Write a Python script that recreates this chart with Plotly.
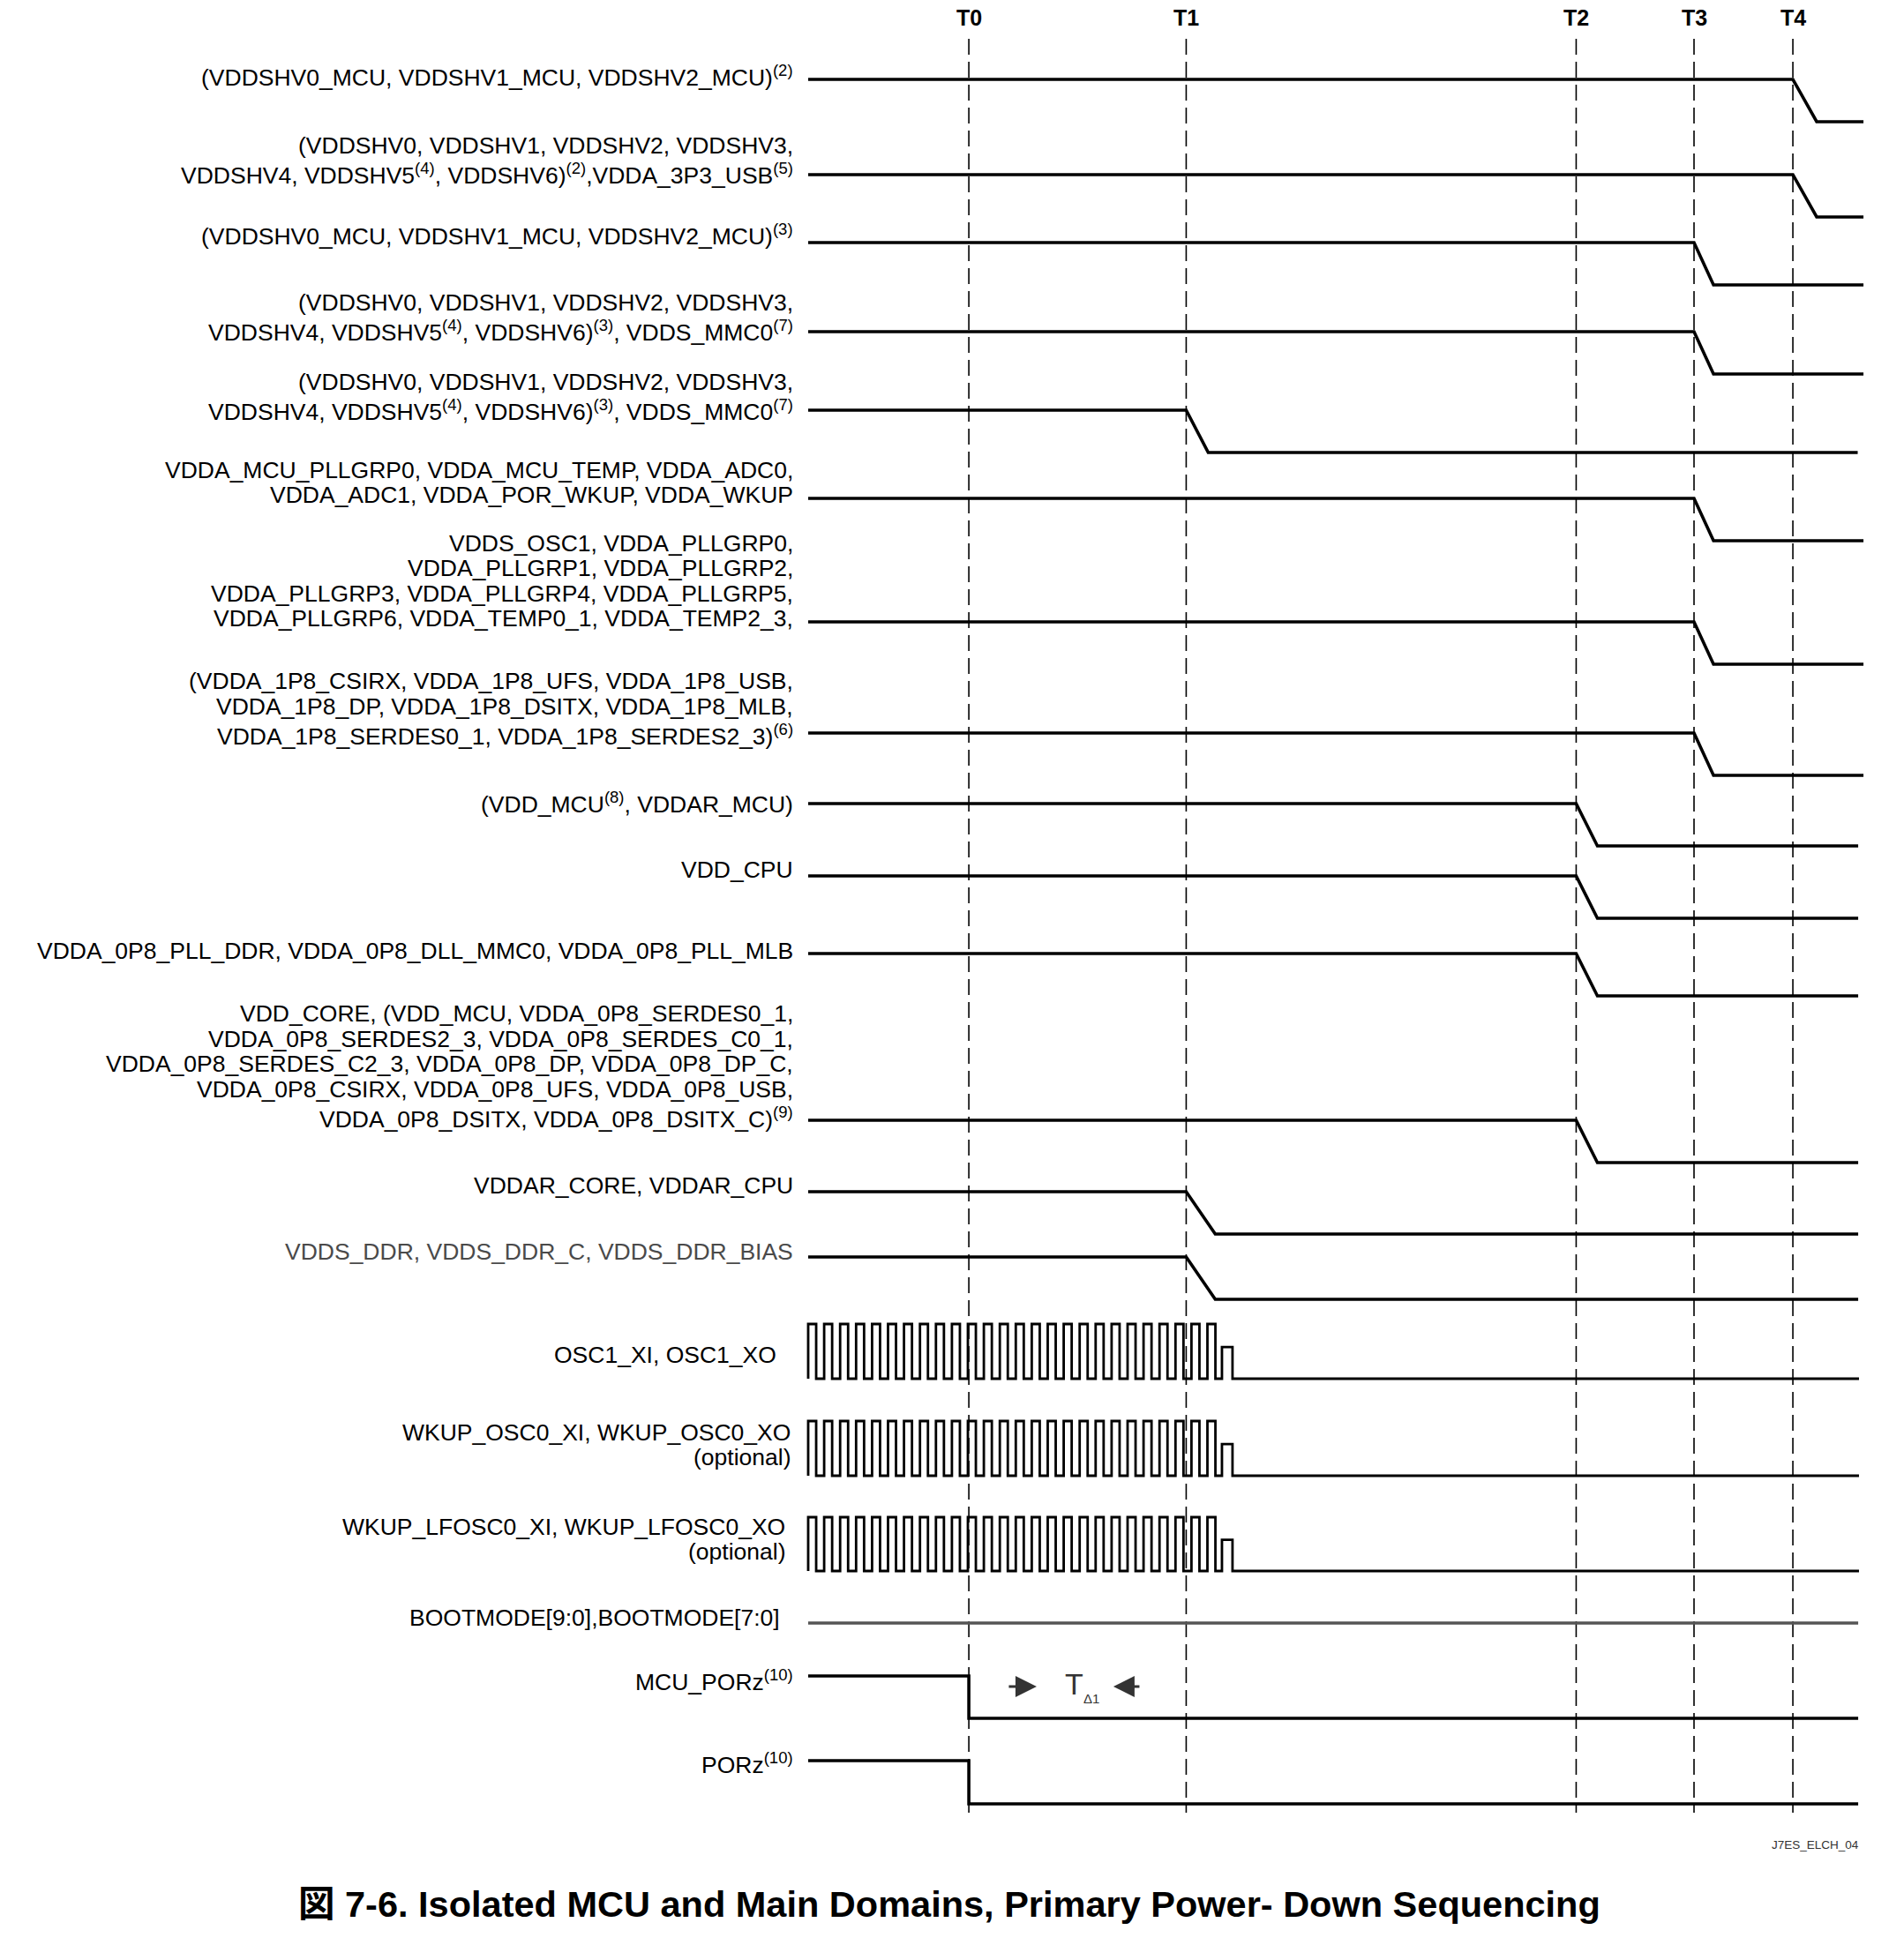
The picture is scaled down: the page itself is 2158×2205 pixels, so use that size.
import plotly.graph_objects as go

# ---------------- data ----------------
time_marks = ["T0", "T1", "T2", "T3", "T4"]
time_values = [10.06, 23.67, 48.09, 55.47, 61.66]      # in oscillator periods from diagram start
sequence_start = 0.0

supply_labels = [
    ["(VDDSHV0_MCU, VDDSHV1_MCU, VDDSHV2_MCU)<sup>(2)</sup>"],
    ["(VDDSHV0, VDDSHV1, VDDSHV2, VDDSHV3,",
     "VDDSHV4, VDDSHV5<sup>(4)</sup>, VDDSHV6)<sup>(2)</sup>,VDDA_3P3_USB<sup>(5)</sup>"],
    ["(VDDSHV0_MCU, VDDSHV1_MCU, VDDSHV2_MCU)<sup>(3)</sup>"],
    ["(VDDSHV0, VDDSHV1, VDDSHV2, VDDSHV3,",
     "VDDSHV4, VDDSHV5<sup>(4)</sup>, VDDSHV6)<sup>(3)</sup>, VDDS_MMC0<sup>(7)</sup>"],
    ["(VDDSHV0, VDDSHV1, VDDSHV2, VDDSHV3,",
     "VDDSHV4, VDDSHV5<sup>(4)</sup>, VDDSHV6)<sup>(3)</sup>, VDDS_MMC0<sup>(7)</sup>"],
    ["VDDA_MCU_PLLGRP0, VDDA_MCU_TEMP, VDDA_ADC0,",
     "VDDA_ADC1, VDDA_POR_WKUP, VDDA_WKUP"],
    ["VDDS_OSC1, VDDA_PLLGRP0,",
     "VDDA_PLLGRP1, VDDA_PLLGRP2,",
     "VDDA_PLLGRP3, VDDA_PLLGRP4, VDDA_PLLGRP5,",
     "VDDA_PLLGRP6, VDDA_TEMP0_1, VDDA_TEMP2_3,"],
    ["(VDDA_1P8_CSIRX, VDDA_1P8_UFS, VDDA_1P8_USB,",
     "VDDA_1P8_DP, VDDA_1P8_DSITX, VDDA_1P8_MLB,",
     "VDDA_1P8_SERDES0_1, VDDA_1P8_SERDES2_3)<sup>(6)</sup>"],
    ["(VDD_MCU<sup>(8)</sup>, VDDAR_MCU)"],
    ["VDD_CPU"],
    ["VDDA_0P8_PLL_DDR, VDDA_0P8_DLL_MMC0, VDDA_0P8_PLL_MLB"],
    ["VDD_CORE, (VDD_MCU, VDDA_0P8_SERDES0_1,",
     "VDDA_0P8_SERDES2_3, VDDA_0P8_SERDES_C0_1,",
     "VDDA_0P8_SERDES_C2_3, VDDA_0P8_DP, VDDA_0P8_DP_C,",
     "VDDA_0P8_CSIRX, VDDA_0P8_UFS, VDDA_0P8_USB,",
     "VDDA_0P8_DSITX, VDDA_0P8_DSITX_C)<sup>(9)</sup>"],
    ["VDDAR_CORE, VDDAR_CPU"],
    ["VDDS_DDR, VDDS_DDR_C, VDDS_DDR_BIAS"],
]
supply_fall_at = ["T4", "T4", "T3", "T3", "T1", "T3", "T3", "T3",
                  "T2", "T2", "T2", "T2", "T1", "T1"]
supply_fall_duration = [1.49, 1.49, 1.22, 1.22, 1.38, 1.22, 1.22, 1.22,
                        1.33, 1.33, 1.33, 1.33, 1.82, 1.82]
supply_end = [66.08, 66.08, 66.08, 66.08, 65.72, 66.08, 66.08, 66.08,
              65.75, 65.75, 65.75, 65.75, 65.75, 65.75]
supply_label_gray = [False] * 13 + [True]

clock_labels = [
    ["OSC1_XI, OSC1_XO"],
    ["WKUP_OSC0_XI, WKUP_OSC0_XO", "(optional)"],
    ["WKUP_LFOSC0_XI, WKUP_LFOSC0_XO", "(optional)"],
]
clock_rise = [0, 1, 2, 3, 4, 5, 6, 7, 8, 9, 10, 11, 12, 13, 14, 15, 16, 17,
              18, 19, 20, 21, 22, 23, 24, 25]
clock_high_width = 0.5
clock_last_pulse = [25.91, 26.57]
clock_last_level = 0.58
clock_end = 65.80

bootmode_label = "BOOTMODE[9:0],BOOTMODE[7:0]"
bootmode_end = 65.75

reset_labels = ["MCU_PORz<sup>(10)</sup>", "PORz<sup>(10)</sup>"]
reset_fall_at = ["T0", "T0"]
reset_end = [65.75, 65.75]

delta_label = "T"
delta_sub = "Δ1"
figure_id = "J7ES_ELCH_04"
title_text = "<b>図 7-6. Isolated MCU and Main Domains, Primary Power- Down Sequencing</b>"

# ---------------- layout (pixel geometry) ----------------
W, H = 2158, 2205
PX0, PX_PER_UNIT = 916.0, 18.1          # horizontal scale of the time axis


def px_to_t(px):
    return (px - PX0) / PX_PER_UNIT


supply_row_y = [90, 198, 275, 376, 465, 565, 705, 831, 911, 993, 1081, 1270, 1351, 1425]
supply_label_y = [86, 197, 266, 375, 465, 561, 701, 833, 910, 986, 1078, 1267, 1344, 1419]
LEVEL_DROP = 48
clock_rows = [(1501, 1563), (1611, 1673), (1720, 1781)]
clock_label_y = [[1536], [1622, 1652], [1729, 1759]]
clock_label_right = [881, 897, 891]
bootmode_y = 1840
bootmode_label_y = 1834
reset_rows = [(1900, 1948), (1996, 2045)]
reset_label_y = [1905, 1999]
LABEL_RIGHT = 900
DASH_TOP, DASH_BOTTOM = 44, 2055

FONT = "Liberation Sans, Arial, Noto Sans CJK JP, sans-serif"
FS = 26.5

tmap = dict(zip(time_marks, time_values))
fig = go.Figure()

# dashed time markers
for name, t in zip(time_marks, time_values):
    fig.add_trace(go.Scatter(x=[t, t], y=[DASH_TOP, DASH_BOTTOM], mode="lines",
                             line=dict(color="black", width=1.6, dash="18px,8px"),
                             hoverinfo="skip", showlegend=False))

annotations = []


def add_label(lines, last_y, right_px, color="black"):
    y = last_y
    ys = []
    for i in range(len(lines) - 1, -1, -1):
        ys.append(y)
        if i > 0:
            y -= 32.5 if "<sup>" in lines[i] else 28.5
    ys = ys[::-1]
    for txt, yy in zip(lines, ys):
        annotations.append(dict(x=px_to_t(right_px), y=yy, xref="x", yref="y", text=txt,
                                showarrow=False, xanchor="right", yanchor="middle",
                                borderpad=0, font=dict(family=FONT, size=FS, color=color)))


# supply rails
for i, lines in enumerate(supply_labels):
    hi = supply_row_y[i]
    lo = hi + LEVEL_DROP
    tf = tmap[supply_fall_at[i]]
    fig.add_trace(go.Scatter(
        x=[sequence_start, tf, tf + supply_fall_duration[i], supply_end[i]],
        y=[hi, hi, lo, lo], mode="lines",
        line=dict(color="black", width=3.6), hoverinfo="skip", showlegend=False))
    add_label(lines, supply_label_y[i], LABEL_RIGHT,
              "#4a4a4a" if supply_label_gray[i] else "black")

# oscillator clocks
for i, lines in enumerate(clock_labels):
    top, bot = clock_rows[i]
    xs, lv = [sequence_start], [0]
    for r in clock_rise:
        xs += [r, r, r + clock_high_width, r + clock_high_width]
        lv += [0, 1, 1, 0]
    a, b = clock_last_pulse
    xs += [a, a, b, b, clock_end]
    lv += [0, clock_last_level, clock_last_level, 0, 0]
    ys = [bot - v * (bot - top) for v in lv]
    fig.add_trace(go.Scatter(x=xs, y=ys, mode="lines",
                             line=dict(color="black", width=2.8),
                             hoverinfo="skip", showlegend=False))
    add_label(lines, clock_label_y[i][-1], clock_label_right[i])

# bootmode
fig.add_trace(go.Scatter(x=[sequence_start, bootmode_end], y=[bootmode_y, bootmode_y],
                         mode="lines", line=dict(color="#555555", width=3.5),
                         hoverinfo="skip", showlegend=False))
add_label([bootmode_label], bootmode_label_y, 885)

# resets
for i, lab in enumerate(reset_labels):
    hi, lo = reset_rows[i]
    tf = tmap[reset_fall_at[i]]
    fig.add_trace(go.Scatter(x=[sequence_start, tf, tf, reset_end[i]], y=[hi, hi, lo, lo],
                             mode="lines", line=dict(color="black", width=3.6),
                             hoverinfo="skip", showlegend=False))
    add_label([lab], reset_label_y[i], LABEL_RIGHT)

# time marker labels
for name, t in zip(time_marks, time_values):
    annotations.append(dict(x=t, y=20, xref="x", yref="y", text="<b>%s</b>" % name,
                            showarrow=False, xanchor="center", yanchor="middle",
                            font=dict(family=FONT, size=25, color="black")))

# T delta annotation between T0 and T1
t0, t1 = tmap["T0"], tmap["T1"]
span = t1 - t0
ay = 1912
annotations.append(dict(x=t0 + 0.312 * span, y=ay, ax=t0 + 0.178 * span, ay=ay,
                        xref="x", yref="y", axref="x", ayref="y", text="",
                        showarrow=True, arrowhead=2, arrowsize=1.6, arrowwidth=3,
                        arrowcolor="#333333", standoff=0))
annotations.append(dict(x=t0 + 0.665 * span, y=ay, ax=t0 + 0.791 * span, ay=ay,
                        xref="x", yref="y", axref="x", ayref="y", text="",
                        showarrow=True, arrowhead=2, arrowsize=1.6, arrowwidth=3,
                        arrowcolor="#333333", standoff=0))
annotations.append(dict(x=t0 + 0.483 * span, y=1909, xref="x", yref="y", text=delta_label,
                        showarrow=False, xanchor="center", yanchor="middle",
                        font=dict(family=FONT, size=34, color="#333333")))
annotations.append(dict(x=t0 + 0.562 * span, y=1925, xref="x", yref="y", text=delta_sub,
                        showarrow=False, xanchor="center", yanchor="middle",
                        font=dict(family=FONT, size=15, color="#333333")))

# figure id and caption
annotations.append(dict(x=px_to_t(2109), y=2091, xref="x", yref="y", text=figure_id,
                        showarrow=False, xanchor="right", yanchor="middle",
                        font=dict(family=FONT, size=13.5, color="#333333")))
annotations.append(dict(x=1076 / W, y=2158, xref="paper", yref="y", text=title_text,
                        showarrow=False, xanchor="center", yanchor="middle",
                        font=dict(family=FONT, size=41.5, color="black")))

fig.update_layout(
    width=W, height=H, margin=dict(l=0, r=0, t=0, b=0),
    paper_bgcolor="white", plot_bgcolor="white",
    xaxis=dict(range=[px_to_t(0), px_to_t(W)], visible=False, fixedrange=True),
    yaxis=dict(range=[H, 0], visible=False, fixedrange=True),
    annotations=annotations, showlegend=False,
)

fig.write_html("out.html", config={"displayModeBar": False},
               post_script="document.body.style.margin='0';")
